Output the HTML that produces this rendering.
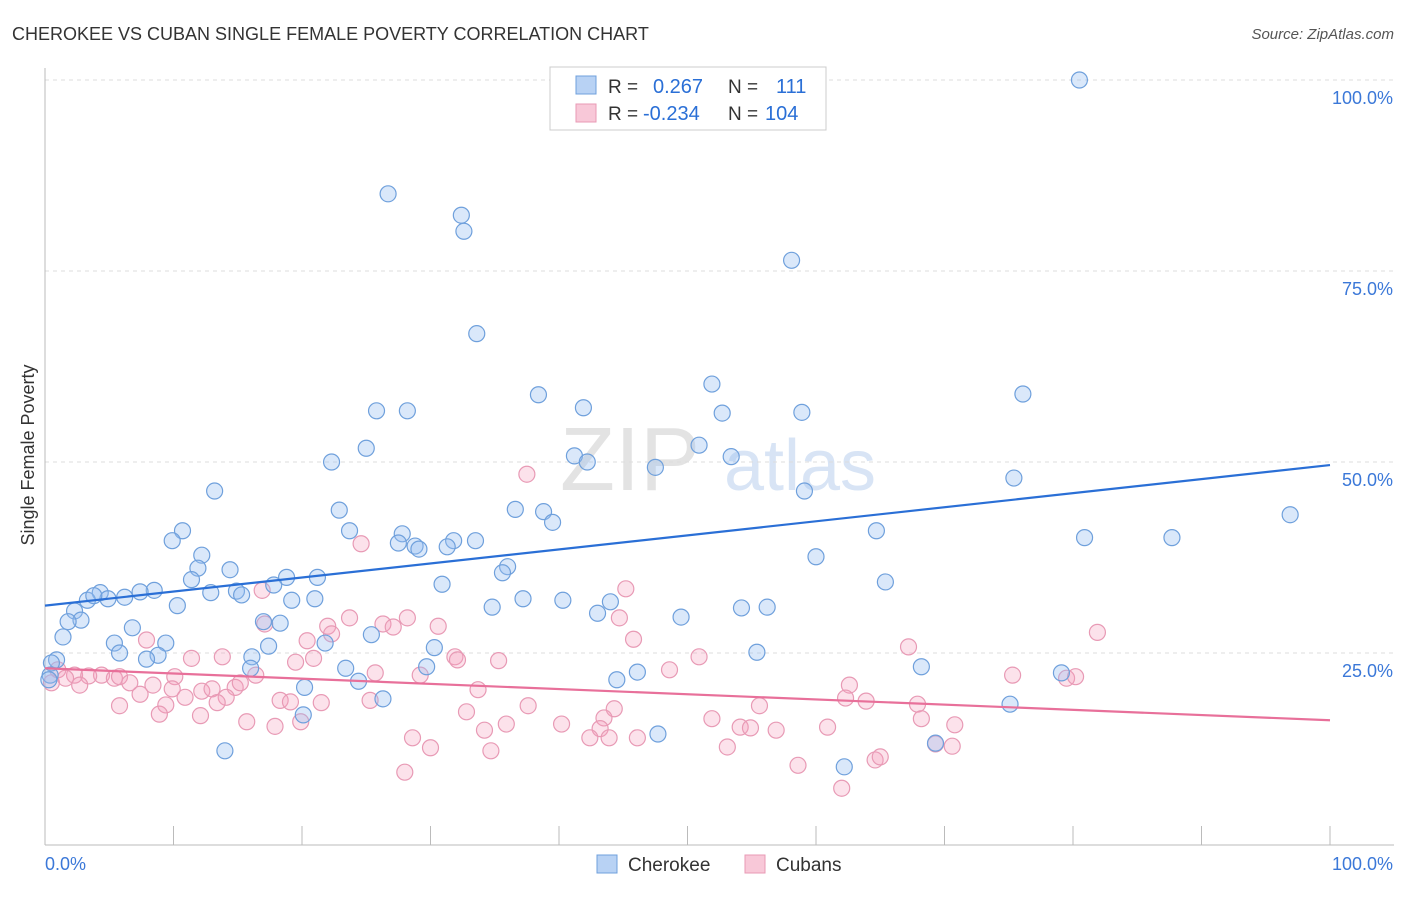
<!DOCTYPE html>
<html><head><meta charset="utf-8"><style>
body{margin:0;background:#fff;font-family:"Liberation Sans",sans-serif;}
svg text{font-family:"Liberation Sans",sans-serif;}
</style></head><body>
<svg id="chart" width="1406" height="892" viewBox="0 0 1406 892" xmlns="http://www.w3.org/2000/svg">
<text x="12" y="40" font-size="18" fill="#333">CHEROKEE VS CUBAN SINGLE FEMALE POVERTY CORRELATION CHART</text>
<text x="1394" y="39" font-size="15" fill="#555" font-style="italic" text-anchor="end">Source: ZipAtlas.com</text>
<text transform="translate(34,455) rotate(-90)" font-size="18" fill="#333" text-anchor="middle">Single Female Poverty</text>
<g>
<text x="630" y="490" font-size="90" fill="#d8d8d8" font-family="Liberation Serif" text-anchor="middle" opacity="0.7">ZIP</text>
<text x="800" y="490" font-size="72" fill="#c8daf2" text-anchor="middle" opacity="0.7">atlas</text>
</g>
<g id="grid"></g><g id="axes"></g><g id="pts"></g><g id="lines"></g>
<g>
<rect x="550" y="67" width="276" height="63" fill="#fff" stroke="#ccc"/>
<rect x="576" y="76" width="20" height="18" fill="#b8d2f4" stroke="#6fa0dc"/>
<rect x="576" y="104" width="20" height="18" fill="#f8c8d8" stroke="#e89ab5"/>
<text x="608" y="93" font-size="19" fill="#333">R =</text>
<text x="653" y="93" font-size="20" fill="#2a6fd6">0.267</text>
<text x="728" y="93" font-size="19" fill="#333">N =</text>
<text x="776" y="93" font-size="20" fill="#2a6fd6">111</text>
<text x="608" y="120" font-size="19" fill="#333">R =</text>
<text x="643" y="120" font-size="20" fill="#2a6fd6">-0.234</text>
<text x="728" y="120" font-size="19" fill="#333">N =</text>
<text x="765" y="120" font-size="20" fill="#2a6fd6">104</text>
</g>
<g>
<rect x="597" y="855" width="20" height="18" fill="#b8d2f4" stroke="#6fa0dc"/>
<text x="628" y="871" font-size="19" fill="#333">Cherokee</text>
<rect x="745" y="855" width="20" height="18" fill="#f8c8d8" stroke="#e89ab5"/>
<text x="776" y="871" font-size="19" fill="#333">Cubans</text>
</g>
</svg>
<script>
const cherokeeX=[80.5,26.7,32.4,32.6,58.1,33.6,51.9,76.1,38.4,25.8,28.2,41.9,52.7,58.9,25.0,50.9,41.2,42.2,53.4,22.3,47.5,75.4,13.2,59.1,22.9,36.6,38.8,39.5,96.9,10.7,23.7,27.8,64.7,9.9,27.5,31.8,33.5,28.8,29.1,31.3,80.9,87.7,12.2,60.0,11.9,14.4,36.0,35.6,21.2,18.8,11.4,30.9,65.4,17.8,8.5,7.4,14.9,12.9,15.3,4.3,6.2,4.9,3.3,3.8,37.2,40.3,19.2,21.0,44.0,10.3,2.3,34.8,54.2,56.2,2.8,1.8,43.0,49.5,6.8,17.0,18.3,1.4,25.4,21.8,5.4,9.4,17.4,30.3,5.8,8.8,7.9,16.1,0.9,0.5,55.4,68.2,79.1,23.4,16.0,46.1,29.7,44.5,24.4,20.2,26.3,75.1,20.1,47.7,14.0,69.3,62.2,0.4,0.3];
const cherokeeY=[100,85.1,82.3,80.2,76.4,66.8,60.2,58.9,58.8,56.7,56.7,57.1,56.4,56.5,51.8,52.2,50.8,50.0,50.7,50.0,49.3,47.9,46.2,46.2,43.7,43.8,43.5,42.1,43.1,41.0,41.0,40.6,41.0,39.7,39.4,39.7,39.7,39.0,38.6,38.9,40.1,40.1,37.8,37.6,36.1,35.9,36.3,35.5,34.9,34.9,34.6,34.0,34.3,33.9,33.2,33.0,33.1,32.9,32.6,32.9,32.3,32.1,31.9,32.5,32.1,31.9,31.9,32.1,31.7,31.2,30.5,31.0,30.9,31.0,29.3,29.1,30.2,29.7,28.3,29.1,28.9,27.1,27.4,26.3,26.3,26.3,25.9,25.7,25.0,24.7,24.2,24.5,24.1,23.7,25.1,23.2,22.4,23.0,23.0,22.5,23.2,21.5,21.3,20.5,19.0,18.3,16.9,14.4,12.2,13.2,10.1,22.1,21.5];
const cubansX=[37.5,24.6,45.2,16.9,23.7,26.3,28.2,81.9,27.1,30.6,44.7,22.0,22.3,7.9,20.4,45.8,17.1,67.2,31.9,11.4,13.8,32.1,35.3,20.9,19.5,50.9,1.0,4.4,2.3,1.6,3.4,5.4,5.8,6.6,7.4,8.4,10.1,9.9,12.2,13.0,10.9,14.8,15.2,14.1,16.4,25.7,29.2,33.7,48.6,62.6,75.3,79.5,80.2,2.7,0.5,5.8,9.4,8.9,12.1,13.4,18.3,19.1,21.5,25.3,62.3,63.9,67.9,55.6,44.3,32.8,37.6,40.2,35.9,43.5,43.2,51.9,68.2,70.8,15.7,17.9,19.9,54.1,54.9,56.9,60.9,34.2,28.6,30.0,34.7,42.4,43.9,46.1,53.1,69.3,70.6,64.6,65.0,58.6,28.0,62.0];
const cubansY=[48.4,39.3,33.4,33.2,29.6,28.8,29.6,27.7,28.4,28.5,29.6,28.5,27.5,26.7,26.6,26.8,28.8,25.8,24.5,24.3,24.5,24.1,24.0,24.3,23.8,24.5,22.8,22.1,22.1,21.7,22.0,21.7,21.9,21.1,19.6,20.8,21.9,20.3,20.0,20.3,19.2,20.5,21.1,19.2,22.1,22.4,22.1,20.2,22.8,20.8,22.1,21.7,21.9,20.8,21.1,18.1,18.2,17.0,16.8,18.5,18.8,18.6,18.5,18.8,19.1,18.7,18.3,18.1,17.7,17.3,18.1,15.7,15.7,16.5,15.1,16.4,16.4,15.6,16.0,15.4,16.0,15.3,15.2,14.9,15.3,14.9,13.9,12.6,12.2,13.9,13.9,13.9,12.7,13.1,12.8,11.0,11.4,10.3,9.4,7.3];
const cherokeeTrend=[31.2,49.6];
const cubansTrend=[23.0,16.2];
const xTicks=[0,10,20,30,40,50,60,70,80,90,100];
const yTicks=[25,50,75,100];
const yTickLabels=["25.0%","50.0%","75.0%","100.0%"];
const NS="http://www.w3.org/2000/svg";
const X=v=>45+v*12.85, Y=v=>844-v*7.64;
function mk(tag,attrs,parent){const e=document.createElementNS(NS,tag);for(const k in attrs)e.setAttribute(k,attrs[k]);parent.appendChild(e);return e;}
const grid=document.getElementById('grid'),axes=document.getElementById('axes'),pts=document.getElementById('pts'),lines=document.getElementById('lines');
yTicks.forEach((t,i)=>{
 const l=mk('line',{x1:45,x2:1394,y1:Y(t),y2:Y(t),stroke:'#ddd','stroke-dasharray':'4,4'},grid);
 
 
 const tx=mk('text',{x:1393,y:Y(t)+24,'font-size':18,fill:'#3b78d8','text-anchor':'end'},axes);
 tx.textContent=yTickLabels[i];
 
 
});
const ax=mk('line',{x1:45,x2:1394,y1:845,y2:845,stroke:'#bbb'},axes);


const ay=mk('line',{x1:45,x2:45,y1:68,y2:845,stroke:'#bbb'},axes);


xTicks.forEach(t=>{
 const l=mk('line',{x1:X(t),x2:X(t),y1:826,y2:845,stroke:'#bbb'},axes);
 
 
});
const xl0=mk('text',{x:45,y:870,'font-size':18,fill:'#3b78d8'},axes);xl0.textContent='0.0%';


const xl1=mk('text',{x:1393,y:870,'font-size':18,fill:'#3b78d8','text-anchor':'end'},axes);xl1.textContent='100.0%';


cubansX.forEach((v,i)=>{
 const c=mk('circle',{cx:X(v),cy:Y(cubansY[i]),r:8,fill:'rgba(245,160,190,0.3)',stroke:'#e89ab5','stroke-width':1.2},pts);
 
 
});
cherokeeX.forEach((v,i)=>{
 const c=mk('circle',{cx:X(v),cy:Y(cherokeeY[i]),r:8,fill:'rgba(150,190,240,0.35)',stroke:'#6fa0dc','stroke-width':1.2},pts);
 
 
});
const bl=mk('line',{x1:X(0),y1:Y(cherokeeTrend[0]),x2:X(100),y2:Y(cherokeeTrend[1]),stroke:'#2a6fd6','stroke-width':2.2},lines);


const pl=mk('line',{x1:X(0),y1:Y(cubansTrend[0]),x2:X(100),y2:Y(cubansTrend[1]),stroke:'#e8709a','stroke-width':2.2},lines);


</script>
</body></html>
